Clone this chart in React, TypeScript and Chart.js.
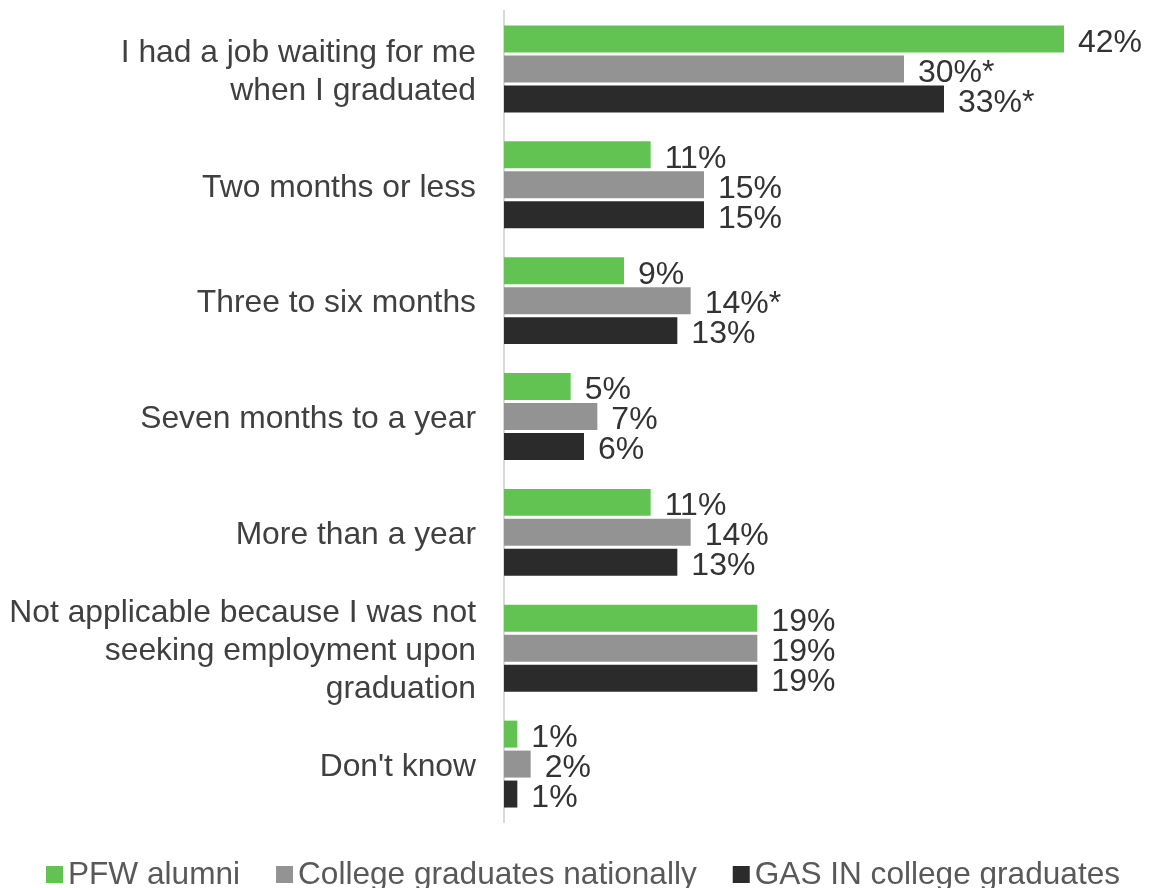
import React, { useEffect, useRef } from "react";
import { Chart, registerables } from "chart.js";

Chart.register(...registerables);

const categories: (string | string[])[] = [
  ["I had a job waiting for me", "when I graduated"],
  "Two months or less",
  "Three to six months",
  "Seven months to a year",
  "More than a year",
  ["Not applicable because I was not", "seeking employment upon", "graduation"],
  "Don't know",
];

const seriesNames = ["PFW alumni", "College graduates nationally", "GAS IN college graduates"];
const seriesColors = ["#62C353", "#939393", "#2B2B2B"];

const pfwValues = [42, 11, 9, 5, 11, 19, 1];
const nationalValues = [30, 15, 14, 7, 14, 19, 2];
const gasValues = [33, 15, 13, 6, 13, 19, 1];

// significance markers ("*") shown after the value labels
const pfwMarks = ["", "", "", "", "", "", ""];
const nationalMarks = ["*", "", "*", "", "", "", ""];
const gasMarks = ["*", "", "", "", "", "", ""];

const FONT = "'Liberation Sans', Arial, sans-serif";

const valueLabelPlugin = {
  id: "valueLabels",
  afterDatasetsDraw(chart: any) {
    const ctx = chart.ctx;
    ctx.save();
    ctx.font = `32px ${FONT}`;
    ctx.fillStyle = "#333333";
    ctx.textAlign = "left";
    ctx.textBaseline = "middle";
    chart.data.datasets.forEach((ds: any, di: number) => {
      const meta = chart.getDatasetMeta(di);
      meta.data.forEach((el: any, i: number) => {
        const text = `${ds.data[i]}%${ds.marks[i]}`;
        ctx.fillText(text, el.x + 14, el.y + 4);
      });
    });
    ctx.restore();
  },
};

const legendPlugin = {
  id: "customLegend",
  afterDraw(chart: any) {
    const ctx = chart.ctx;
    ctx.save();
    ctx.font = `31.6px ${FONT}`;
    ctx.textBaseline = "middle";
    ctx.textAlign = "left";
    let x = 46;
    const y = 875;
    chart.data.datasets.forEach((ds: any) => {
      ctx.fillStyle = ds.backgroundColor;
      ctx.fillRect(x, y - 9, 17, 17);
      x += 22;
      ctx.fillStyle = "#595959";
      ctx.fillText(ds.label, x, y);
      x += ctx.measureText(ds.label).width + 36;
    });
    ctx.restore();
  },
};

export default function App() {
  const ref = useRef<HTMLCanvasElement | null>(null);

  useEffect(() => {
    if (!ref.current) return;
    const values = [pfwValues, nationalValues, gasValues];
    const marks = [pfwMarks, nationalMarks, gasMarks];
    const chart = new Chart(ref.current, {
      type: "bar",
      data: {
        labels: categories,
        datasets: seriesNames.map((name, i) => ({
          label: name,
          data: values[i],
          marks: marks[i],
          backgroundColor: seriesColors[i],
          borderWidth: 0,
          categoryPercentage: 0.776,
          barPercentage: 0.9,
        })) as any,
      },
      options: {
        indexAxis: "y",
        animation: false,
        responsive: true,
        maintainAspectRatio: false,
        layout: { padding: { top: 11, bottom: 66, left: 0, right: 48 } },
        plugins: {
          legend: { display: false },
          tooltip: { enabled: false },
        },
        scales: {
          x: {
            display: false,
            min: 0,
            max: 45,
          },
          y: {
            grid: { display: false, drawTicks: false },
            border: { display: true, color: "#D9D9D9", width: 2 },
            ticks: {
              color: "#404040",
              font: { family: FONT, size: 31.8 },
              padding: 28,
              autoSkip: false,
              labelOffset: 3,
            },
            afterFit(scale: any) {
              scale.width = 504;
              scale.paddingTop = 0;
              scale.paddingBottom = 0;
            },
          },
        },
      },
      plugins: [valueLabelPlugin, legendPlugin],
    });
    return () => chart.destroy();
  }, []);

  return (
    <div style={{ position: "absolute", left: 0, top: 0, width: 1152, height: 888, background: "#fff" }}>
      <canvas ref={ref} />
    </div>
  );
}
